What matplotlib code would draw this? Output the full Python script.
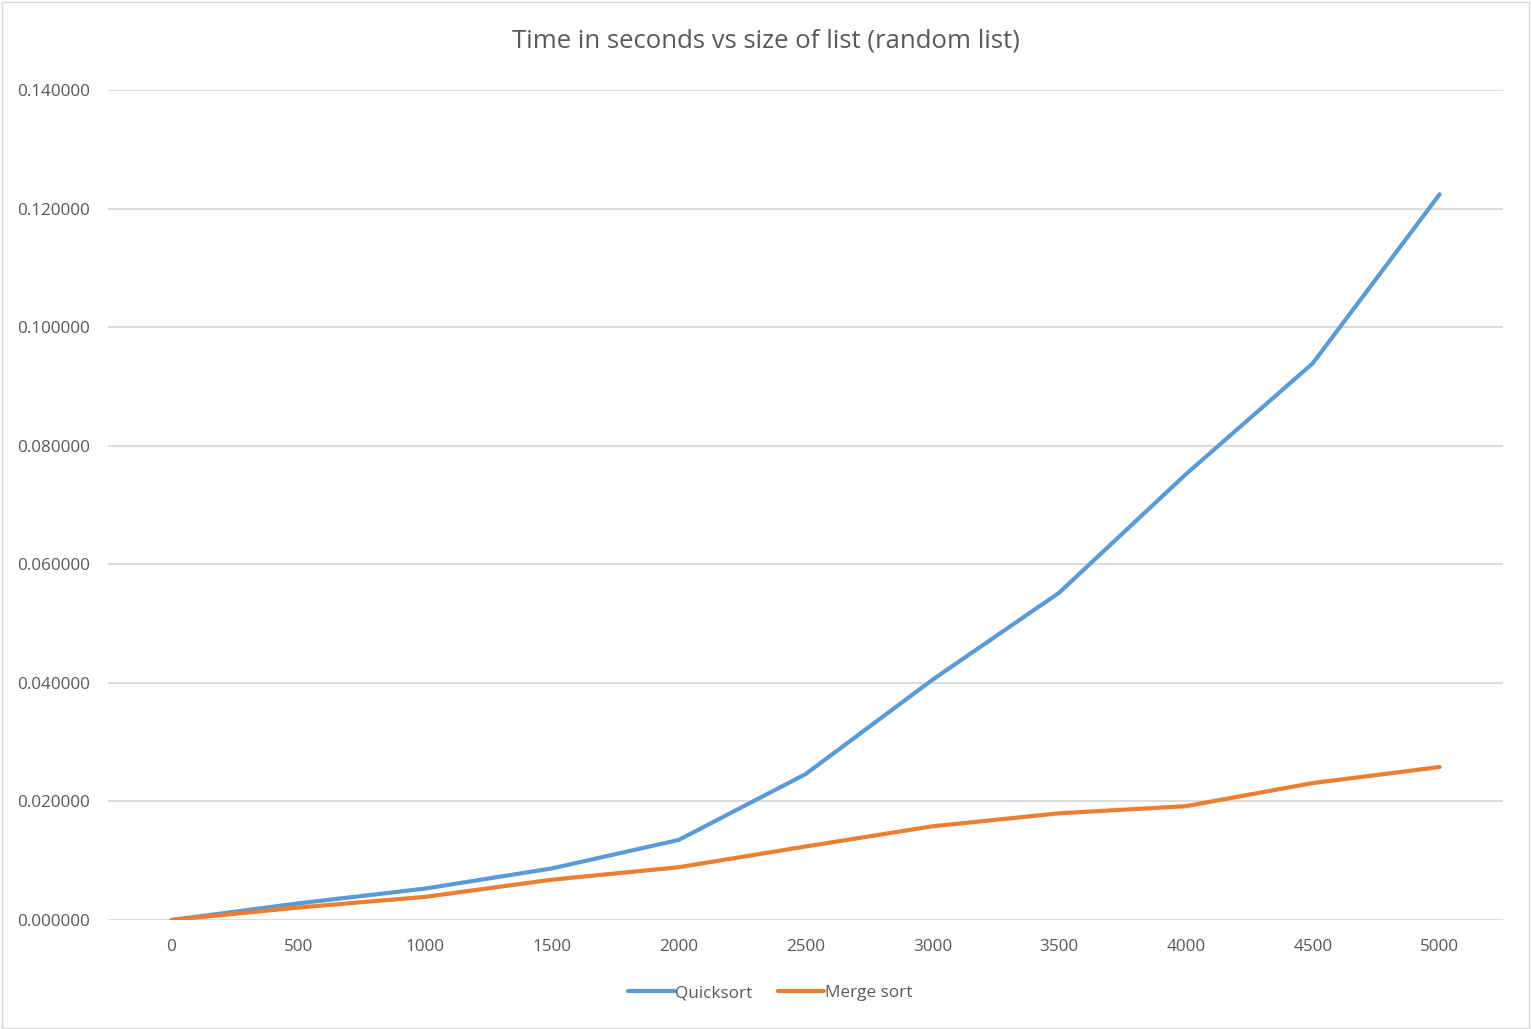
import matplotlib.pyplot as plt
from matplotlib.patches import Rectangle

# list sizes and timings (seconds)
sizes = [0, 500, 1000, 1500, 2000, 2500, 3000, 3500, 4000, 4500, 5000]
quicksort = [0.0000, 0.0028, 0.0053, 0.0087, 0.0135, 0.0246, 0.0405,
             0.0552, 0.0752, 0.0939, 0.1224]
merge_sort = [0.0000, 0.0021, 0.0039, 0.0068, 0.0089, 0.0124, 0.0158,
              0.0180, 0.0192, 0.0231, 0.0258]
y_ticks = [0.0, 0.02, 0.04, 0.06, 0.08, 0.10, 0.12, 0.14]

plt.rcParams['font.family'] = ['Open Sans', 'DejaVu Sans']
text_color = '#595959'

fig = plt.figure(figsize=(15.32, 10.29), dpi=100)
ax = fig.add_axes([108 / 1532, 1 - 920 / 1029, (1503 - 108) / 1532, (920 - 90) / 1029])

ax.plot(sizes, quicksort, color='#5B9BD5', lw=3, label='Quicksort', solid_capstyle='round')
ax.plot(sizes, merge_sort, color='#ED7D31', lw=3, label='Merge sort', solid_capstyle='round')

ax.set_xlim(-250, 5250)
ax.set_ylim(0, 0.14)
ax.set_xticks(sizes)
ax.set_xticklabels([str(s) for s in sizes])
ax.set_yticks(y_ticks)
ax.set_yticklabels([f'{v:.6f}' for v in y_ticks])
ax.tick_params(length=0, labelsize=12.3, colors=text_color)
ax.tick_params(axis='x', pad=14)
ax.tick_params(axis='y', pad=13)
ax.grid(axis='y', color='#D9D9D9', lw=1.3)
ax.set_axisbelow(True)
for s in ax.spines.values():
    s.set_visible(False)

fig.text(0.5, 1 - 41 / 1029, 'Time in seconds vs size of list (random list)',
         ha='center', va='center', fontsize=18.5, color=text_color)

leg = fig.legend(loc='center', bbox_to_anchor=(0.503, 1 - 993 / 1029), ncol=2,
                 frameon=False, fontsize=12.3, handlelength=2.7, handletextpad=0.05,
                 columnspacing=1.5)
for t in leg.get_texts():
    t.set_color(text_color)

# thin border around the chart area
fig.patches.append(Rectangle((0.001, 0.001), 0.997, 0.997, transform=fig.transFigure,
                             fill=False, edgecolor='#D9D9D9', lw=1))

fig.savefig('out.png', dpi=100, facecolor='white')
